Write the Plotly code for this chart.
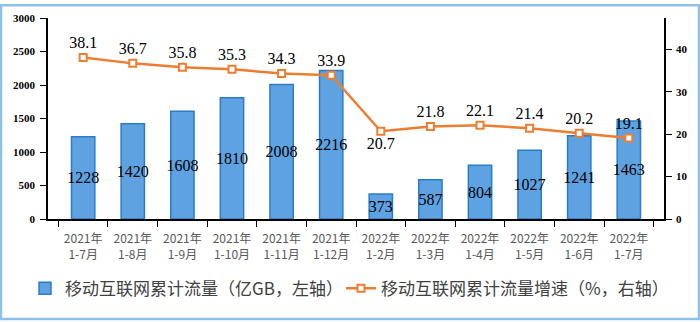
import plotly.graph_objects as go

categories = ["2021年<br>1-7月", "2021年<br>1-8月", "2021年<br>1-9月", "2021年<br>1-10月",
              "2021年<br>1-11月", "2021年<br>1-12月", "2022年<br>1-2月", "2022年<br>1-3月",
              "2022年<br>1-4月", "2022年<br>1-5月", "2022年<br>1-6月", "2022年<br>1-7月"]
traffic = [1228, 1420, 1608, 1810, 2008, 2216, 373, 587, 804, 1027, 1241, 1463]
growth = [38.1, 36.7, 35.8, 35.3, 34.3, 33.9, 20.7, 21.8, 22.1, 21.4, 20.2, 19.1]
growth_pos = ["top center"] * 6 + ["bottom center"] + ["top center"] * 5

W, H = 700, 322
L, R, T, B = 48, 36, 14, 103
pw, ph = W - L - R, H - T - B

def px(x):
    return (x - L) / pw

def py(y):
    return (H - B - y) / ph

fig = go.Figure()
fig.add_trace(go.Bar(
    x=categories, y=traffic, name="移动互联网累计流量（亿GB，左轴）",
    marker=dict(color="#5FA2E2", line=dict(color="#2A7CC7", width=1.5)),
    width=0.47,
    text=[str(v) for v in traffic], textposition="inside", insidetextanchor="middle",
    constraintext="none", textangle=0,
    textfont=dict(family="Liberation Serif", size=16, color="black"),
))
fig.add_trace(go.Scatter(
    x=categories, y=growth, yaxis="y2", name="移动互联网累计流量增速（%，右轴）",
    mode="lines+markers+text",
    line=dict(color="#ED7D31", width=2.5),
    marker=dict(symbol="square", size=7, color="white", line=dict(color="#ED7D31", width=2)),
    text=[f"{v:.1f}" for v in growth], textposition=growth_pos,
    textfont=dict(family="Liberation Serif", size=16, color="black"),
))

fig.update_layout(
    width=W, height=H,
    margin=dict(l=L, r=R, t=T, b=B),
    paper_bgcolor="white", plot_bgcolor="white",
    bargap=0.5,
    xaxis=dict(
        showline=True, linecolor="black", linewidth=1.5,
        ticks="outside", tickson="boundaries", ticklen=6, tickcolor="black",
        tickfont=dict(family="Noto Sans CJK SC", size=12, color="#595959"),
        ticklabelstandoff=8,
        showgrid=False,
    ),
    yaxis=dict(
        range=[0, 3000], dtick=500, showline=True, linecolor="black", linewidth=1.5,
        ticks="outside", ticklen=6, tickcolor="black", showgrid=False, zeroline=False,
        tickfont=dict(family="Liberation Serif", size=11, color="black", weight="bold"),
        ticklabelstandoff=3,
    ),
    yaxis2=dict(
        range=[0, 47.4], dtick=10, overlaying="y", side="right",
        showline=True, linecolor="black", linewidth=1.5,
        ticks="outside", ticklen=6, tickcolor="black", showgrid=False, zeroline=False,
        tickfont=dict(family="Liberation Serif", size=11, color="black", weight="bold"),
        ticklabelstandoff=2,
    ),
    showlegend=True,
    legend=dict(
        orientation="h", x=px(25), y=py(290), xanchor="left", yanchor="middle",
        font=dict(family="Noto Sans CJK SC", size=17, color="#404040"),
        entrywidth=271, bgcolor="rgba(0,0,0,0)",
    ),
    shapes=[dict(
        type="rect", xref="paper", yref="paper",
        x0=px(1), x1=px(699), y0=py(321), y1=py(1),
        line=dict(color="#8EC1EA", width=2.5),
    )],
)

fig.write_html("out.html")
